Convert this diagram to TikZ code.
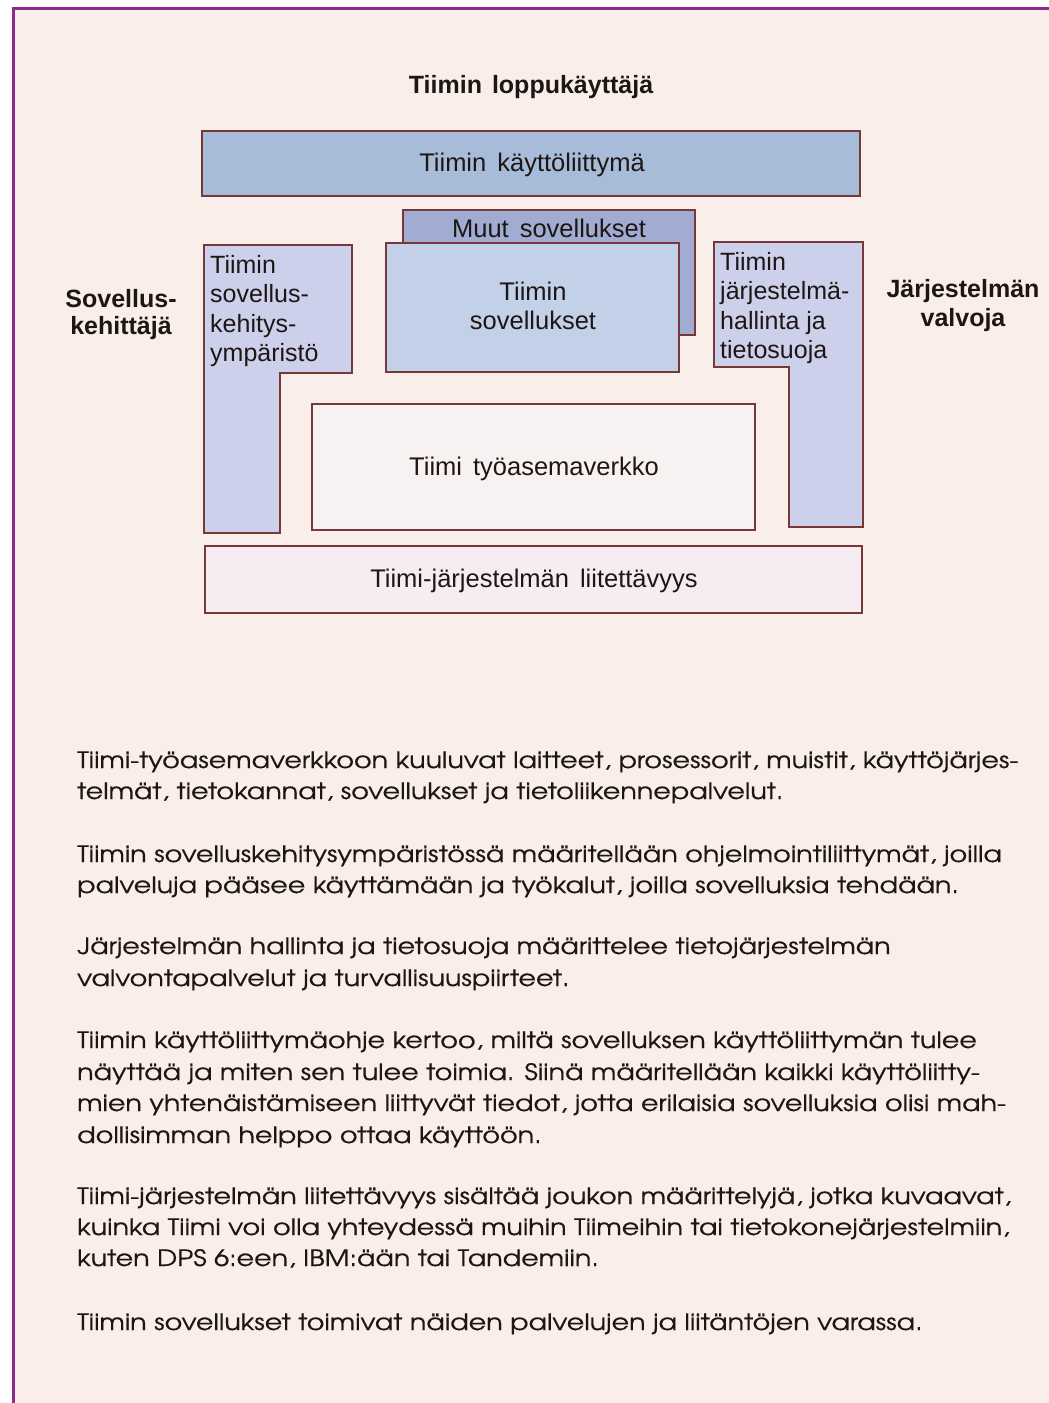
\documentclass[tikz,border=0pt]{standalone}
\usepackage{fontspec}
\setmainfont{Liberation Sans}
\newfontfamily\gothic[FakeStretch=1.2, FakeBold=0.5]{TeX Gyre Adventor}
\newcommand\boxsp{\spaceskip=11pt\relax}
\newcommand\hdrsp{\spaceskip=10pt\relax}
\definecolor{bgpeach}{HTML}{F9EEE9}
\definecolor{purp}{HTML}{8E2A8E}
\definecolor{boxline}{HTML}{763838}
\definecolor{barblue}{HTML}{A6BCD8}
\definecolor{muutblue}{HTML}{A0ACD2}
\definecolor{appblue}{HTML}{C2D1E7}
\definecolor{lav}{HTML}{CDD0EB}
\definecolor{wsfill}{HTML}{F8F1F1}
\definecolor{connfill}{HTML}{F6EDF3}
\definecolor{txtdark}{HTML}{1E1614}
\begin{document}
\begin{tikzpicture}[x=1pt,y=-1pt,
  blk/.style={draw=boxline, line width=1.6pt, inner sep=0pt},
  boxtxt/.style={font=\fontsize{25.5}{29}\selectfont\boxsp, text=txtdark, anchor=base, inner sep=0pt},
  ltxt/.style={font=\fontsize{25}{29}\selectfont, text=txtdark, anchor=base west, inner sep=0pt},
  hdr/.style={font=\bfseries\fontsize{25}{29}\selectfont\hdrsp, text=txtdark, anchor=base, inner sep=0pt},
  body/.style={font=\gothic\fontsize{22.5}{31}\selectfont, text=txtdark, anchor=base west, inner sep=0pt}]
\useasboundingbox (0,0) rectangle (1049,1403);
\fill[white] (0,0) rectangle (1049,1403);
\fill[bgpeach] (13,8) rectangle (1049,1403);
\draw[purp, line width=3pt] (13,1403) -- (13,8) -- (1049,8);

% header and side labels
\node[hdr] (user) at (531,93) {Tiimin loppukäyttäjä};
\node[hdr] (dev1) at (121,307) {Sovellus-};
\node[hdr] (dev2) at (121,334) {kehittäjä};
\node[hdr] (adm1) at (963,297) {Järjestelmän};
\node[hdr] (adm2) at (963,326) {valvoja};

% user interface bar
\node[blk, fill=barblue, minimum width=658pt, minimum height=65pt] (ui) at (531,163.5) {};
\node[boxtxt] (uit) at (532,171) {Tiimin käyttöliittymä};

% other applications (back card) and team applications
\node[blk, fill=muutblue, minimum width=292pt, minimum height=125pt] (muut) at (549,272.5) {};
\node[boxtxt] (muutt) at (549,237) {Muut sovellukset};
\node[blk, fill=appblue, minimum width=293pt, minimum height=129pt] (apps) at (532.5,307.5) {};
\node[boxtxt] (apps1) at (533,300) {Tiimin};
\node[boxtxt] (apps2) at (533,329) {sovellukset};

% left L-shape
\draw[boxline, line width=1.6pt, fill=lav] (204,245) -- (352,245) -- (352,373) -- (280,373) -- (280,533) -- (204,533) -- cycle;
\node[ltxt] (dv1) at (210,273) {Tiimin};
\node[ltxt] (dv2) at (210,302.5) {sovellus-};
\node[ltxt] (dv3) at (210,332) {kehitys-};
\node[ltxt] (dv4) at (210,361.5) {ympäristö};

% right L-shape
\draw[boxline, line width=1.6pt, fill=lav] (714,242) -- (863,242) -- (863,527) -- (789,527) -- (789,367) -- (714,367) -- cycle;
\node[ltxt] (sm1) at (720,270) {Tiimin};
\node[ltxt] (sm2) at (720,299.5) {järjestelmä-};
\node[ltxt] (sm3) at (720,329) {hallinta ja};
\node[ltxt] (sm4) at (720,358.5) {tietosuoja};

% workstation network
\node[blk, fill=wsfill, minimum width=443pt, minimum height=126pt] (ws) at (533.5,467) {};
\node[boxtxt] (wst) at (534,475) {Tiimi työasemaverkko};

% connectivity
\node[blk, fill=connfill, minimum width=657pt, minimum height=67pt] (conn) at (533.5,579.5) {};
\node[boxtxt] (connt) at (534,587) {Tiimi-järjestelmän liitettävyys};

% body text
\foreach \yy/\bodyline [count=\k] in {
  768/{Tiimi-työasemaverkkoon kuuluvat laitteet, prosessorit, muistit, käyttöjärjes-},
  799/{telmät, tietokannat, sovellukset ja tietoliikennepalvelut.},
  862/{Tiimin sovelluskehitysympäristössä määritellään ohjelmointiliittymät, joilla},
  893/{palveluja pääsee käyttämään ja työkalut, joilla sovelluksia tehdään.},
  954/{Järjestelmän hallinta ja tietosuoja määrittelee tietojärjestelmän},
  986/{valvontapalvelut ja turvallisuuspiirteet.},
  1048/{Tiimin käyttöliittymäohje kertoo, miltä sovelluksen käyttöliittymän tulee},
  1080/{näyttää ja miten sen tulee toimia. Siinä määritellään kaikki käyttöliitty-},
  1111/{mien yhtenäistämiseen liittyvät tiedot, jotta erilaisia sovelluksia olisi mah-},
  1143/{dollisimman helppo ottaa käyttöön.},
  1204/{Tiimi-järjestelmän liitettävyys sisältää joukon määrittelyjä, jotka kuvaavat,},
  1235/{kuinka Tiimi voi olla yhteydessä muihin Tiimeihin tai tietokonejärjestelmiin,},
  1266/{kuten DPS 6:een, IBM:ään tai Tandemiin.},
  1330/{Tiimin sovellukset toimivat näiden palvelujen ja liitäntöjen varassa.}}
  \node[body] (b\k) at (77,\yy) {\bodyline};
\end{tikzpicture}
\end{document}
